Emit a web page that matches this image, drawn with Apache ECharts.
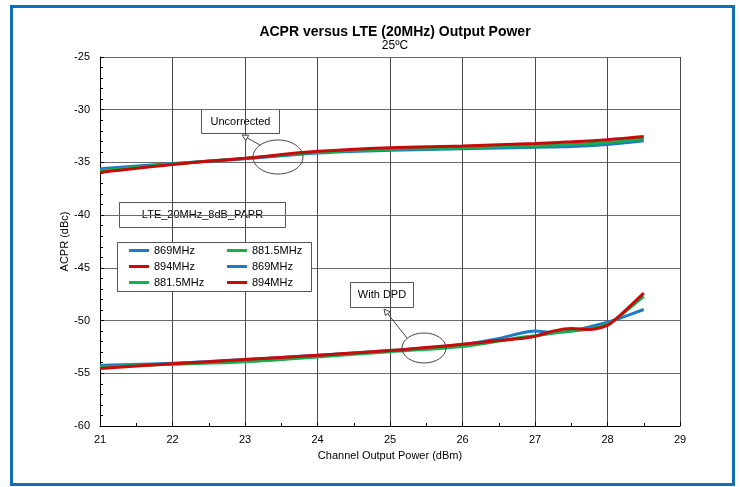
<!DOCTYPE html>
<html>
<head>
<meta charset="utf-8">
<script src="https://cdn.jsdelivr.net/npm/echarts@6/dist/echarts.min.js"></script>
<style>html,body{margin:0;padding:0;background:#fff;}#c{width:740px;height:487px;}</style>
</head>
<body>
<div id="c"></div>
<script>
// ---- data ----
const xTicks = [21, 22, 23, 24, 25, 26, 27, 28, 29];
const yTicks = [-25, -30, -35, -40, -45, -50, -55, -60];

const uncorrX     = [21, 22, 23, 24, 25, 26, 27, 27.5, 28, 28.5];
const uncorr869   = [-35.6, -35.1, -34.65, -34.1, -33.85, -33.7, -33.55, -33.5, -33.3, -32.95];
const uncorr8815  = [-35.8, -35.15, -34.6, -34.05, -33.75, -33.6, -33.4, -33.3, -33.1, -32.75];
const uncorr894   = [-35.95, -35.2, -34.6, -33.95, -33.6, -33.45, -33.2, -33.05, -32.85, -32.55];

const dpdX        = [21, 22, 23, 24, 25, 26, 26.5, 26.8, 27, 27.25, 27.5, 27.75, 28, 28.1, 28.2, 28.5];
const dpd869      = [-54.25, -54.05, -53.7, -53.3, -52.85, -52.3, -51.7, -51.2, -51.0, -51.1, -51.0, -50.6, -50.15, -49.95, -49.7, -48.95];
const dpd8815     = [-54.4, -54.15, -53.9, -53.45, -52.95, -52.45, -51.95, -51.6, -51.45, -51.2, -51.0, -50.8, -50.35, -49.95, -49.4, -47.7];
const dpd894      = [-54.55, -54.1, -53.7, -53.3, -52.85, -52.25, -51.9, -51.7, -51.5, -51.0, -50.75, -50.85, -50.45, -49.95, -49.35, -47.4];

const names = ['869MHz', '881.5MHz', '894MHz'];
const colors = {'869MHz': '#1f78c8', '881.5MHz': '#12b050', '894MHz': '#c80a0a'};

function pairs(xs, ys) { return xs.map((x, i) => [x, ys[i]]); }

const FONT = "'Liberation Sans', Arial, sans-serif";

function mkSeries(name, xs, ys) {
  return {
    name: name, type: 'line', data: pairs(xs, ys),
    showSymbol: false, smooth: 0.35,
    lineStyle: {width: 3, color: colors[name]},
    itemStyle: {color: colors[name]},
    z: 3
  };
}

const series = [
  mkSeries('869MHz', uncorrX, uncorr869),
  mkSeries('881.5MHz', uncorrX, uncorr8815),
  mkSeries('894MHz', uncorrX, uncorr894),
  mkSeries('869MHz', dpdX, dpd869),
  mkSeries('881.5MHz', dpdX, dpd8815),
  mkSeries('894MHz', dpdX, dpd894)
];

const chart = echarts.init(document.getElementById('c'), null, {renderer: 'canvas'});

const legendBase = {
  orient: 'vertical', top: 244, itemWidth: 20, itemHeight: 3, icon: 'rect',
  itemGap: 3, padding: 0, selectedMode: false,
  textStyle: {fontSize: 11, fontFamily: FONT, color: '#000', lineHeight: 13}
};

function box(x, y, w, h, text) {
  return {
    type: 'group', x: x, y: y, z: 10,
    children: [
      {type: 'rect', shape: {x: 0, y: 0, width: w, height: h},
       style: {fill: '#fff', stroke: '#555', lineWidth: 1}},
      {type: 'text', x: w / 2, y: h / 2,
       style: {text: text, fontSize: 11, fontFamily: FONT, fill: '#000', align: 'center', verticalAlign: 'middle'}}
    ]
  };
}

function arrow(x1, y1, x2, y2) {
  const ang = Math.atan2(y2 - y1, x2 - x1);
  const L = 6, W = 3;
  const bx = x2 - L * Math.cos(ang), by = y2 - L * Math.sin(ang);
  const px = -Math.sin(ang) * W, py = Math.cos(ang) * W;
  return [
    {type: 'line', z: 10, shape: {x1: x1, y1: y1, x2: bx, y2: by}, style: {stroke: '#444', lineWidth: 1}},
    {type: 'polygon', z: 10, shape: {points: [[x2, y2], [bx + px, by + py], [bx - px, by - py]]}, style: {fill: '#fff', stroke: '#444', lineWidth: 1}}
  ];
}

const option = {
  backgroundColor: '#fff',
  animation: false,
  title: {
    text: 'ACPR versus LTE (20MHz) Output Power',
    subtext: '25ºC',
    left: 390, top: 20, textAlign: 'center', itemGap: 1,
    textStyle: {fontSize: 14, fontWeight: 'bold', fontFamily: FONT, color: '#000'},
    subtextStyle: {fontSize: 12, fontFamily: FONT, color: '#000'}
  },
  grid: {left: 100, right: 60, top: 57, bottom: 61, containLabel: false},
  xAxis: {
    type: 'value', min: xTicks[0], max: xTicks[xTicks.length - 1], interval: 1,
    name: 'Channel Output Power (dBm)', nameLocation: 'middle', nameGap: 24,
    nameMoveOverlap: false,
    nameTextStyle: {fontSize: 11, fontFamily: FONT, color: '#000'},
    axisLine: {show: true, lineStyle: {color: '#000', width: 1}},
    axisTick: {show: true, inside: true, length: 4, lineStyle: {color: '#000'}},
    minorTick: {show: true, splitNumber: 2, length: 3, lineStyle: {color: '#000'}},
    axisLabel: {fontSize: 11, fontFamily: FONT, color: '#000', margin: 8},
    splitLine: {show: true, lineStyle: {color: '#4a4a4a', width: 1}}
  },
  yAxis: {
    type: 'value', min: yTicks[yTicks.length - 1], max: yTicks[0], interval: 5,
    name: 'ACPR (dBc)', nameLocation: 'middle', nameGap: 30, nameRotate: 90,
    nameMoveOverlap: false,
    nameTextStyle: {fontSize: 11, fontFamily: FONT, color: '#000'},
    axisLine: {show: true, lineStyle: {color: '#000', width: 1}},
    axisTick: {show: true, inside: true, length: 4, lineStyle: {color: '#000'}},
    minorTick: {show: true, splitNumber: 5, length: 3, lineStyle: {color: '#000'}},
    axisLabel: {fontSize: 11, fontFamily: FONT, color: '#000', margin: 10},
    splitLine: {show: true, lineStyle: {color: '#6a6a6a', width: 1}}
  },
  legend: [
    Object.assign({}, legendBase, {left: 129, data: ['869MHz', '894MHz', '881.5MHz']}),
    Object.assign({}, legendBase, {left: 227, data: ['881.5MHz', '869MHz', '894MHz']})
  ],
  graphic: [
    {type: 'rect', z: -1, shape: {x: 11.5, y: 6.5, width: 722, height: 478},
     style: {fill: 'none', stroke: '#0f6fb8', lineWidth: 3}, silent: true},
    box(201.5, 109.5, 78, 24, 'Uncorrected'),
    box(119.5, 202.5, 166, 25, 'LTE_20MHz_8dB_PAPR'),
    {type: 'rect', z: 1, shape: {x: 117.5, y: 242.5, width: 194, height: 49},
     style: {fill: '#fff', stroke: '#555', lineWidth: 1}},
    box(350.5, 282.5, 63, 25, 'With DPD'),
    {type: 'ellipse', z: 10, shape: {cx: 278, cy: 157, rx: 25, ry: 17}, style: {fill: 'none', stroke: '#444', lineWidth: 1}},
    {type: 'ellipse', z: 10, shape: {cx: 424, cy: 348, rx: 22, ry: 15}, style: {fill: 'none', stroke: '#444', lineWidth: 1}}
  ].concat(arrow(260, 145, 242, 135)).concat(arrow(407, 338, 384, 309)),
  series: series
};

chart.setOption(option);
</script>
</body>
</html>
